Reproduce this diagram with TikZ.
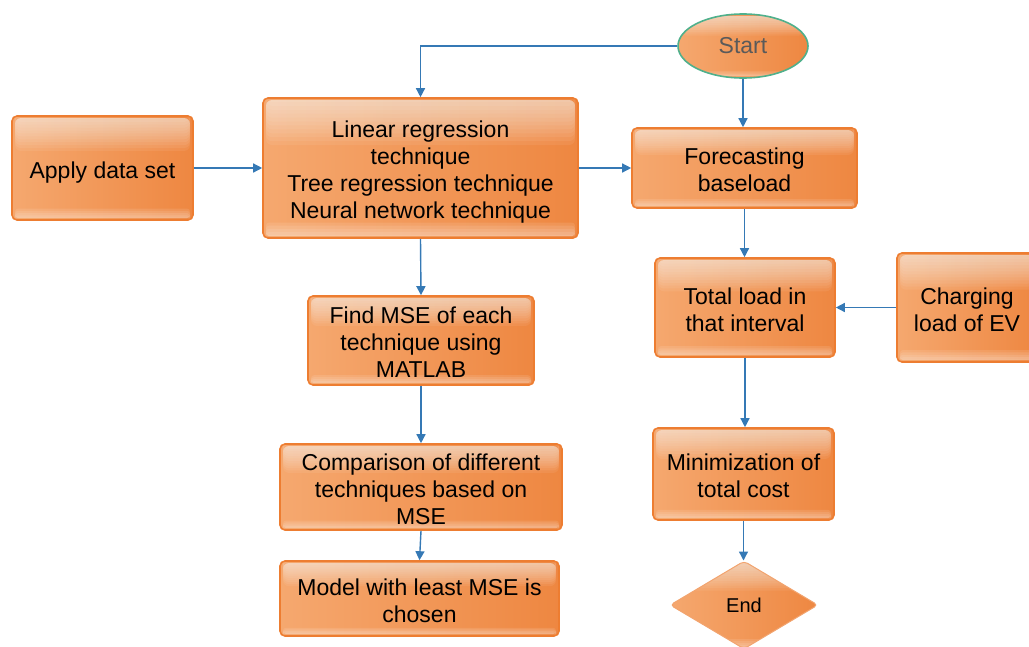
\documentclass[tikz,border=0pt]{standalone}
\usepackage{fontspec}
\setmainfont{Liberation Sans}
\usetikzlibrary{shapes.geometric,arrows.meta,calc}
\definecolor{boxedge}{HTML}{ED7D31}
\definecolor{boxlight}{HTML}{F5A86F}
\definecolor{boxdark}{HTML}{EE8741}
\definecolor{flowblue}{HTML}{3579B5}
\definecolor{startedge}{HTML}{4FB08C}
\definecolor{starttext}{HTML}{5A5A5A}
% centred lines of box text, set a little below the box centre
\newcommand\boxlines[1]{\raisebox{-5pt}[\height][\depth]{\begin{tabular}{@{}c@{}}#1\end{tabular}}}
\begin{document}
\begin{tikzpicture}[x=1pt,y=-1pt,
  gloss/.style={path picture={
      \coordinate (gNW) at (path picture bounding box.north west);
      \coordinate (gNE) at (path picture bounding box.north east);
      \coordinate (gSW) at (path picture bounding box.south west);
      \coordinate (gSE) at (path picture bounding box.south east);
      % soft light band along the top
      \foreach \k in {1,...,12}{
        \fill[white,opacity=0.065,rounded corners=6pt]
          ($(gNW)+(3,2)$) rectangle ($(gNE)!{0.028*\k}!(gSE)+(-3,0)$);
      }
      % thin light strip along the bottom
      \foreach \k in {1,...,5}{
        \fill[white,opacity=0.1,rounded corners=3pt]
          ($(gSW)!{0.022*\k}!(gNW)+(3,0)$) rectangle ($(gSE)+(-3,-2)$);
      }
  }},
  stepbox/.style={gloss,draw=boxedge,line width=1.6pt,rounded corners=5pt,
    left color=boxlight,right color=boxdark,
    inner sep=0pt,font=\fontsize{23}{27}\selectfont},
  startnode/.style={ellipse,gloss,draw=startedge,line width=1.6pt,
    left color=boxlight,right color=boxdark,inner sep=0pt,
    minimum width=130pt,minimum height=64pt,
    text=starttext,font=\fontsize{23}{27}\selectfont},
  endnode/.style={diamond,gloss,draw=boxedge!70,line width=1pt,rounded corners=4pt,
    left color=boxlight,right color=boxdark,inner sep=0pt,
    minimum width=148pt,minimum height=88pt,
    font=\fontsize{20}{24}\selectfont},
  flow/.style={draw=flowblue,line width=1.4pt,-{Triangle[length=9pt,width=9pt]}}
]
\useasboundingbox (0,0) rectangle (1029,646);

% process boxes
\node[stepbox,minimum width=181pt,minimum height=104pt] (apply) at (102.5,168)
  {\boxlines{Apply data set}};
\node[stepbox,minimum width=315pt,minimum height=140pt] (tech) at (420.5,168)
  {\boxlines{Linear regression\\technique\\Tree regression technique\\Neural network technique}};
\node[stepbox,minimum width=226pt,minimum height=89pt] (mse) at (421,340.5)
  {\boxlines{Find MSE of each\\technique using\\MATLAB}};
\node[stepbox,minimum width=282pt,minimum height=86pt] (comp) at (421,487)
  {\boxlines{Comparison of different\\techniques based on\\MSE}};
\node[stepbox,minimum width=279pt,minimum height=75pt] (model) at (419.5,598.5)
  {\boxlines{Model with least MSE is\\chosen}};
\node[stepbox,minimum width=225pt,minimum height=80pt] (fore) at (744.5,168)
  {\boxlines{Forecasting\\baseload}};
\node[stepbox,minimum width=180pt,minimum height=99pt] (total) at (745,307.5)
  {\boxlines{Total load in\\that interval}};
\node[stepbox,minimum width=140pt,minimum height=109pt] (ev) at (967,307.5)
  {\boxlines{Charging\\load of EV}};
\node[stepbox,minimum width=181pt,minimum height=92pt] (mini) at (743.5,474)
  {\boxlines{Minimization of\\total cost}};

% terminals
\node[startnode] (start) at (743,46) {Start};
\node[endnode] (end) at (744,605) {End};

% connectors
\draw[flow] (start.west) -| (tech.north);
\draw[flow] (start.south) -- (start.south |- fore.north);
\draw[flow] (apply.east) -- (tech.west);
\draw[flow] (tech.east) -- (fore.west);
\draw[flow] (tech.south) -- (mse.north);
\draw[flow] (mse.south) -- (comp.north);
\draw[flow] (comp.south) -- (model.north);
\draw[flow] (fore.south) -- (fore.south |- total.north);
\draw[flow] (ev.west) -- (total.east);
\draw[flow] (total.south) -- (total.south |- mini.north);
\draw[flow] (mini.south) -- (mini.south |- end.north);
\end{tikzpicture}
\end{document}
